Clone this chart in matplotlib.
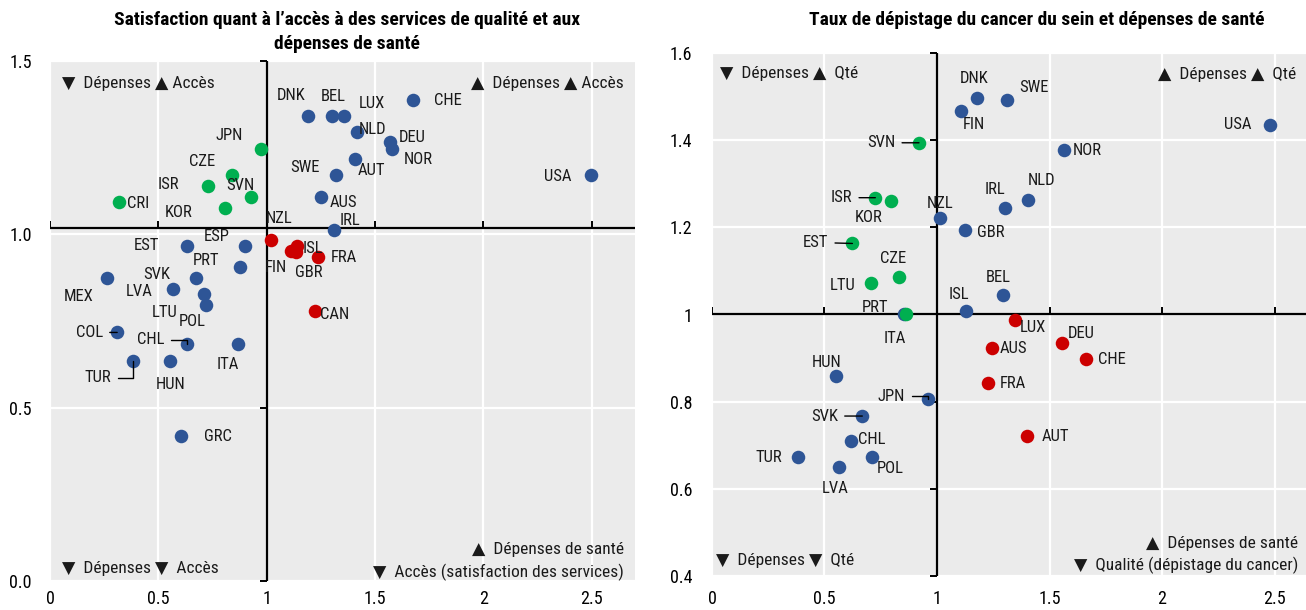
import matplotlib
matplotlib.use("Agg")
import matplotlib.pyplot as plt
from matplotlib import font_manager

# ---------------- data ----------------
# Left panel: x = dépenses de santé (relative), y = accès (satisfaction)
left_codes = ["DNK", "BEL", "LUX", "CHE", "NLD", "DEU", "NOR", "AUT", "SWE", "AUS", "IRL", "USA",
              "JPN", "CZE", "ISR", "SVN", "KOR", "CRI",
              "NZL", "ISL", "FIN", "GBR", "FRA", "CAN",
              "EST", "ESP", "PRT", "SVK", "MEX", "LVA", "LTU", "POL", "COL", "CHL", "ITA", "TUR", "HUN", "GRC"]
left_x = [1.19, 1.30, 1.357, 1.676, 1.417, 1.57, 1.58, 1.41, 1.32, 1.25, 1.31, 2.496,
          0.972, 0.842, 0.731, 0.926, 0.806, 0.32,
          1.022, 1.139, 1.111, 1.134, 1.236, 1.222,
          0.634, 0.90, 0.875, 0.676, 0.264, 0.57, 0.713, 0.718, 0.31, 0.63, 0.866, 0.385, 0.556, 0.606]
left_y = [1.341, 1.341, 1.341, 1.387, 1.295, 1.266, 1.246, 1.217, 1.171, 1.107, 1.012, 1.171,
          1.246, 1.171, 1.139, 1.107, 1.075, 1.092,
          0.983, 0.965, 0.951, 0.948, 0.936, 0.780,
          0.965, 0.965, 0.905, 0.873, 0.873, 0.841, 0.827, 0.795, 0.717, 0.685, 0.685, 0.636, 0.636, 0.419]
left_group = ["b"] * 12 + ["g"] * 6 + ["r"] * 6 + ["b"] * 14
left_cross = (1.0, 1.017)

# Right panel: x = dépenses de santé, y = dépistage du cancer du sein
right_codes = ["DNK", "SWE", "FIN", "USA", "NOR", "NLD", "IRL", "NZL", "GBR", "BEL", "ISL",
               "ITA", "SVN", "ISR", "KOR", "EST", "CZE", "LTU", "PRT",
               "LUX", "DEU", "CHE", "AUS", "FRA", "AUT",
               "HUN", "JPN", "SVK", "CHL", "TUR", "POL", "LVA"]
right_x = [1.177, 1.31, 1.106, 2.482, 1.566, 1.403, 1.301, 1.013, 1.124, 1.292, 1.128,
           0.854, 0.92, 0.726, 0.797, 0.624, 0.832, 0.708, 0.863,
           1.345, 1.557, 1.664, 1.243, 1.226, 1.398,
           0.549, 0.96, 0.668, 0.619, 0.381, 0.712, 0.566]
right_y = [1.497, 1.492, 1.467, 1.435, 1.378, 1.263, 1.245, 1.222, 1.195, 1.044, 1.009,
           1.0, 1.394, 1.268, 1.261, 1.163, 1.085, 1.073, 1.002,
           0.988, 0.935, 0.899, 0.924, 0.842, 0.721,
           0.858, 0.805, 0.767, 0.709, 0.673, 0.672, 0.650]
right_group = ["b"] * 12 + ["g"] * 7 + ["r"] * 6 + ["b"] * 7
right_cross = (1.0, 1.0)

left_xticks = [0, 0.5, 1, 1.5, 2, 2.5]
left_yticks = [0.0, 0.5, 1.0, 1.5]
right_xticks = [0, 0.5, 1, 1.5, 2, 2.5]
right_yticks = [0.4, 0.6, 0.8, 1.0, 1.2, 1.4, 1.6]

title_left = "Satisfaction quant à l’accès à des services de qualité et aux\ndépenses de santé"
title_right = "Taux de dépistage du cancer du sein et dépenses de santé"

# ---------------- label placement (offsets in pixels) ----------------
left_offsets = {
    "DNK": (-17, 21), "BEL": (2, 20), "LUX": (28, 13), "CHE": (35, 0), "NLD": (16, 3),
    "DEU": (22, 5), "NOR": (26, -10), "AUT": (16, -11), "SWE": (-31, 8), "AUS": (23, -5),
    "IRL": (16, 10), "USA": (-33, -1), "JPN": (-31, 14), "CZE": (-30, 14), "ISR": (-40, 2),
    "SVN": (-10, 12), "KOR": (-46, -4), "CRI": (19, -1), "NZL": (8, 22), "ISL": (16, -2),
    "FIN": (-15, -16), "GBR": (13, -20), "FRA": (26, -1), "CAN": (20, -4), "EST": (-41, 1),
    "ESP": (-28, 10), "PRT": (-34, 7), "SVK": (-40, 4), "MEX": (-29, -18), "LVA": (-34, -2),
    "LTU": (-40, -18), "POL": (-13, -16), "COL": (-28, 0), "CHL": (-36, 4), "ITA": (-10, -21),
    "TUR": (-36, -17), "HUN": (0, -24), "GRC": (37, -1),
}
left_leaders = {"COL": "straight", "CHL": "angle", "TUR": "angle"}

right_offsets = {
    "DNK": (-3, 19), "SWE": (27, 13), "FIN": (13, -14), "USA": (-33, 0), "NOR": (23, -1),
    "NLD": (14, 19), "IRL": (-10, 18), "NZL": (0, 14), "GBR": (26, -3), "BEL": (-4, 18),
    "ISL": (-7, 16), "ITA": (-9, -24), "SVN": (-38, 0), "ISR": (-34, 0), "KOR": (-23, -17),
    "EST": (-37, 1), "CZE": (-6, 19), "LTU": (-29, -3), "PRT": (-31, 6), "LUX": (18, -8),
    "DEU": (19, 9), "CHE": (25, -1), "AUS": (22, -1), "FRA": (25, 0), "AUT": (29, 0),
    "HUN": (-9, 14), "JPN": (-37, 3), "SVK": (-38, 0), "CHL": (20, 2), "TUR": (-29, 0),
    "POL": (18, -11), "LVA": (-4, -21),
}
right_leaders = {"SVN": "straight", "ISR": "straight", "EST": "straight", "SVK": "straight", "JPN": "angle"}

# ---------------- style ----------------
names = {f.name for f in font_manager.fontManager.ttflist}
base = "Liberation Sans"
for cand in ["Liberation Sans Narrow", "Arial Narrow", "Roboto Condensed", "Archivo Narrow"]:
    if cand in names:
        base = cand
        break
if base == "Liberation Sans":
    fs_lab, fs_corner, fs_tick, fs_title = 10, 10, 11, 12
else:
    fs_lab, fs_corner, fs_tick, fs_title = 12, 12.5, 13, 14
FAM = [base, "DejaVu Sans"]
plt.rcParams["font.family"] = FAM

colors = {"b": "#2E5596", "g": "#00AF50", "r": "#CC0000"}
BG = "#EBEBEB"

fig = plt.figure(figsize=(13.06, 6.10), dpi=100)
axL = fig.add_axes([50 / 1306, 1 - 581 / 610, 585 / 1306, 520 / 610])
axR = fig.add_axes([712 / 1306, 1 - 576 / 610, 594 / 1306, 523 / 610])


def fmt(v, dec):
    if dec:
        return f"{v:.1f}"
    return f"{v:g}"


def setup(ax, xticks, yticks, xlim, ylim, ydec, ypad, xpad):
    ax.set_facecolor(BG)
    ax.set_xlim(*xlim)
    ax.set_ylim(*ylim)
    ax.set_xticks(xticks)
    ax.set_yticks(yticks)
    ax.set_xticklabels([fmt(v, False) for v in xticks])
    ax.set_yticklabels([fmt(v, ydec) for v in yticks])
    ax.tick_params(length=0, labelsize=fs_tick, colors="black")
    ax.tick_params(axis="y", pad=ypad)
    ax.tick_params(axis="x", pad=xpad)
    ax.grid(True, color="white", lw=1.6)
    ax.set_axisbelow(True)
    for s in ax.spines.values():
        s.set_visible(False)


def cross(ax, c, xticks, yticks, xlim, ylim):
    cx, cy = c
    ax.plot(list(xlim), [cy, cy], color="black", lw=1.6, zorder=2, solid_capstyle="butt")
    ax.plot([cx, cx], list(ylim), color="black", lw=1.6, zorder=2, solid_capstyle="butt")
    tx = [v for v in xticks if v != cx]
    ax.plot(tx, [cy] * len(tx), ls="none", marker=2, ms=5, mew=1.4, color="black", zorder=2)
    ty = [v for v in yticks if abs(v - cy) > 0.05]
    ax.plot([cx] * len(ty), ty, ls="none", marker=0, ms=5, mew=1.4, color="black", zorder=2,
            clip_on=False)


def points(ax, codes, xs, ys, groups, offsets, leaders):
    for g in ["b", "g", "r"]:
        px = [x for x, gg in zip(xs, groups) if gg == g]
        py = [y for y, gg in zip(ys, groups) if gg == g]
        ax.scatter(px, py, s=95, color=colors[g], zorder=4, linewidths=0)
    for c, x, y in zip(codes, xs, ys):
        dx, dy = offsets[c]
        ap = None
        if c in leaders:
            cs = "arc3" if leaders[c] == "straight" else "angle,angleA=0,angleB=90,rad=0"
            ap = dict(arrowstyle="-", color="black", lw=1.0, shrinkA=3, shrinkB=0,
                      connectionstyle=cs)
        ax.annotate(c, xy=(x, y), xytext=(dx, dy), textcoords="offset pixels",
                    ha="center", va="center", fontsize=fs_lab, color="#1a1a1a",
                    arrowprops=ap, zorder=5)


# left panel
xlimL, ylimL = (0, 2.7), (0, 1.5)
setup(axL, left_xticks, left_yticks, xlimL, ylimL, True, 13, 6.5)
cross(axL, left_cross, left_xticks, left_yticks, xlimL, ylimL)
points(axL, left_codes, left_x, left_y, left_group, left_offsets, left_leaders)

kw = dict(fontsize=fs_corner, transform=axL.transAxes, va="center", color="#1a1a1a")
axL.text(0.02, 0.956, "▼  Dépenses ▲ Accès", ha="left", **kw)
axL.text(0.981, 0.956, "▲  Dépenses ▲ Accès", ha="right", **kw)
axL.text(0.02, 0.025, "▼  Dépenses ▼  Accès", ha="left", **kw)
axL.text(0.981, 0.06, "▲  Dépenses de santé", ha="right", **kw)
axL.text(0.981, 0.017, "▼  Accès (satisfaction des services)", ha="right", **kw)

# right panel
xlimR, ylimR = (0, 2.64), (0.4, 1.6)
setup(axR, right_xticks, right_yticks, xlimR, ylimR, False, 14, 10)
cross(axR, right_cross, right_xticks, right_yticks, xlimR, ylimR)
points(axR, right_codes, right_x, right_y, right_group, right_offsets, right_leaders)

kw = dict(fontsize=fs_corner, transform=axR.transAxes, va="center", color="#1a1a1a")
axR.text(0.013, 0.96, "▼  Dépenses ▲  Qté", ha="left", **kw)
axR.text(0.751, 0.958, "▲  Dépenses ▲  Qté", ha="left", **kw)
axR.text(0.007, 0.029, "▼  Dépenses ▼  Qté", ha="left", **kw)
axR.text(0.987, 0.063, "▲  Dépenses de santé", ha="right", **kw)
axR.text(0.987, 0.021, "▼  Qualité (dépistage du cancer)", ha="right", **kw)

fig.text(347 / 1306, 1 - 32 / 610, title_left, ha="center", va="center", fontsize=fs_title,
         fontweight="bold", linespacing=1.4)
fig.text(1037 / 1306, 1 - 20 / 610, title_right, ha="center", va="center", fontsize=fs_title,
         fontweight="bold")

fig.savefig("out.png", dpi=100, facecolor="white")
